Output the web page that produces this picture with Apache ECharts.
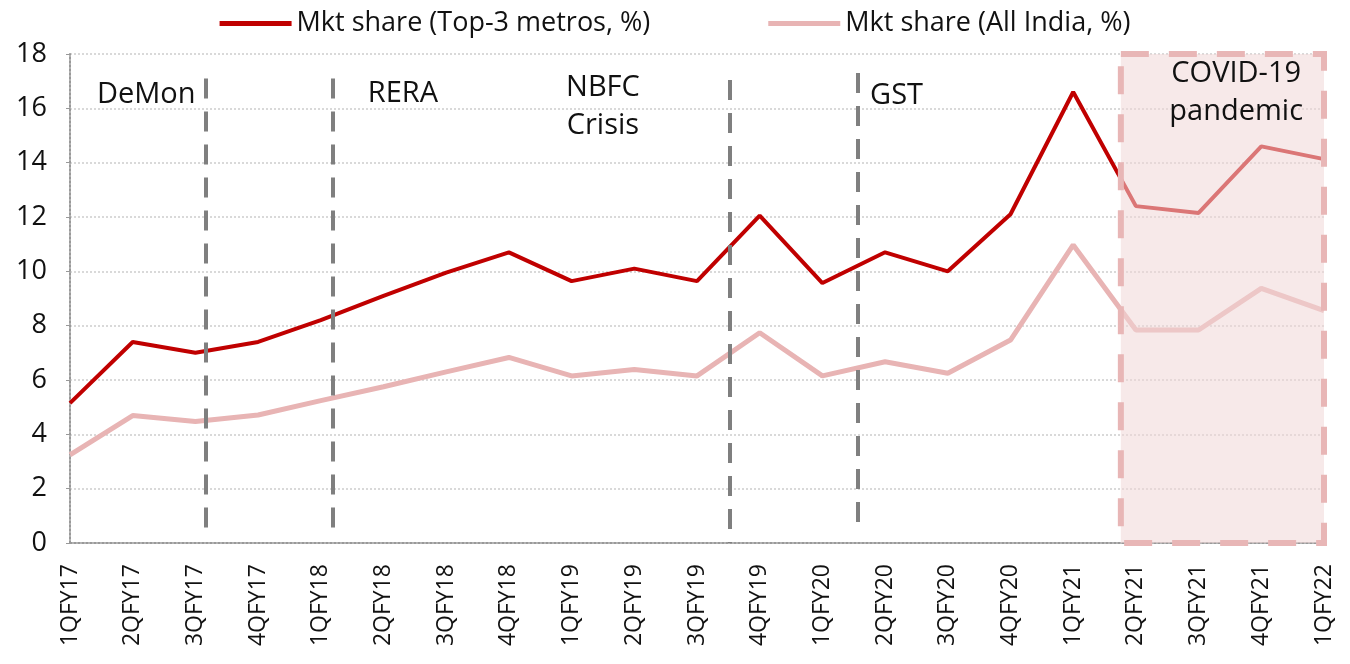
<!DOCTYPE html>
<html>
<head>
<meta charset="utf-8">
<script src="https://cdn.jsdelivr.net/npm/echarts@6/dist/echarts.min.js"></script>
<style>html,body{margin:0;padding:0;background:#fff;}#c{width:1350px;height:664px;}</style>
</head>
<body>
<div id="c"></div>
<script>
const categories = ['1QFY17','2QFY17','3QFY17','4QFY17','1QFY18','2QFY18','3QFY18','4QFY18','1QFY19','2QFY19','3QFY19','4QFY19','1QFY20','2QFY20','3QFY20','4QFY20','1QFY21','2QFY21','3QFY21','4QFY21','1QFY22'];
const metros = [5.15,7.4,7.0,7.4,8.2,9.1,9.95,10.7,9.64,10.1,9.64,12.05,9.57,10.7,10.0,12.1,16.6,12.4,12.15,14.6,14.13];
const allIndia = [3.24,4.69,4.47,4.71,5.24,5.75,6.3,6.83,6.15,6.39,6.15,7.74,6.15,6.67,6.25,7.47,10.97,7.84,7.84,9.37,8.55];
const seriesNames = ['Mkt share (Top-3 metros, %)','Mkt share (All India, %)'];
// event markers: [x position on category index scale, top value, bottom value]
const eventLines = [[2.17,17.1,0.1],[4.19,17.1,0.1],[10.53,17.04,0],[12.57,17.3,0.3]];
// annotation labels: [text, x, y, align]
const annotations = [['DeMon',0.43,16.5,'left'],['RERA',4.75,16.55,'left'],['NBFC\nCrisis',8.5,16.05,'center'],['GST',12.76,16.45,'left'],['COVID-19\npandemic',18.6,16.58,'center']];
const covidBox = [16.76,-0.05,20,18.15];

const FONT = 'Open Sans';
const chart = echarts.init(document.getElementById('c'));
chart.setOption({
  animation:false,
  textStyle:{fontFamily:FONT},
  legend:{
    top:5,left:'center',itemWidth:72,itemHeight:5,itemGap:118,
    icon:'rect',
    textStyle:{fontSize:27,color:'#111',fontFamily:FONT},
    data:seriesNames
  },
  grid:{left:70,right:26,top:54,bottom:121,containLabel:false},
  xAxis:[{
    type:'category',data:categories,boundaryGap:false,
    axisLine:{lineStyle:{color:'#999',type:'dotted',width:2}},
    axisTick:{show:false},
    axisLabel:{rotate:90,fontSize:23,color:'#111',margin:21,fontFamily:FONT,interval:0},
    splitLine:{show:false}
  },{
    type:'value',min:0,max:20,show:false
  }],
  yAxis:{
    type:'value',min:0,max:18,interval:2,
    axisLine:{show:true,lineStyle:{color:'#999',type:'dotted',width:2}},
    axisTick:{show:true,length:4,lineStyle:{color:'#999'}},
    axisLabel:{fontSize:27,color:'#111',margin:23,fontFamily:FONT},
    splitLine:{lineStyle:{color:'#d9d9d9',type:'dotted',width:2}}
  },
  series:[
    {name:seriesNames[0],type:'line',data:metros,symbol:'none',z:3,
     itemStyle:{color:'#c00000'},lineStyle:{color:'#c00000',width:4}},
    {name:seriesNames[1],type:'line',data:allIndia,symbol:'none',z:2,
     itemStyle:{color:'#e8b4b4'},lineStyle:{color:'#e8b4b4',width:5}},
    {name:'events',type:'line',xAxisIndex:1,data:[],z:4,clip:false,
     markLine:{silent:true,symbol:['none','none'],label:{show:false},
       lineStyle:{color:'#7f7f7f',width:4,type:[20,13]},
       data:eventLines.map(e=>[{coord:[e[0],e[1]]},{coord:[e[0],e[2]]}])}
    },
    {name:'covid',type:'line',xAxisIndex:1,data:[],z:10,clip:false,
     markArea:{silent:true,z:10,
       itemStyle:{color:'rgba(240,215,215,0.55)',borderColor:'#e8b6b6',borderWidth:6,borderType:[28,20]},
       data:[[{coord:[covidBox[0],covidBox[3]]},{coord:[covidBox[2],covidBox[1]]}]]}
    },
    {name:'notes',type:'line',xAxisIndex:1,data:[],z:20,clip:false,
     markPoint:{silent:true,z:20,symbol:'circle',symbolSize:0,
       data:annotations.map(a=>({coord:[a[1],a[2]],value:a[0],
         label:{show:true,formatter:a[0],position:a[3]==='left'?'right':'inside',distance:0,
           align:a[3],verticalAlign:'middle',fontSize:29,lineHeight:38,color:'#111',fontFamily:FONT}}))}
    }
  ]
});
</script>
</body>
</html>
